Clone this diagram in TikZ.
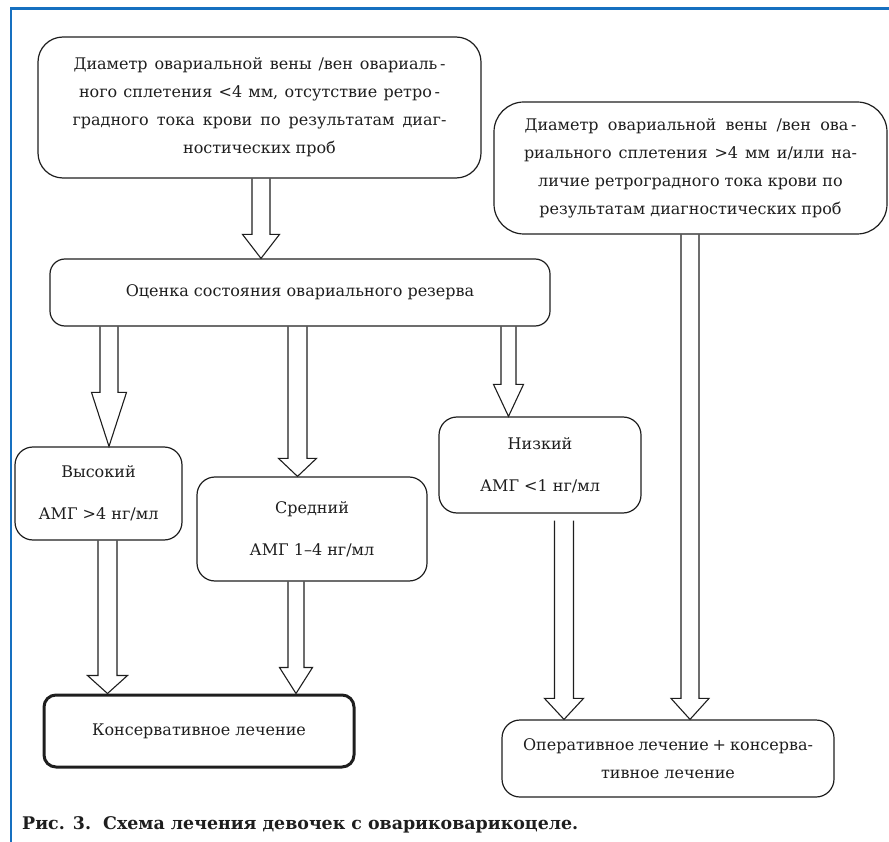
\documentclass[tikz,border=0pt]{standalone}
\usepackage{fontspec}
\setmainfont{DejaVu Serif}
\usetikzlibrary{calc}
\definecolor{frameblue}{RGB}{22,112,192}
\definecolor{ink}{RGB}{30,30,30}
\newcommand\bodyfont{\fontsize{16}{28}\selectfont}
\newcommand\twofont{\fontsize{16}{42}\selectfont}
\tikzset{
  rbox/.style={draw=ink, line width=1.2pt, rounded corners=#1, inner sep=0pt, align=center, font=\bodyfont, text=ink},
  rbox/.default=18pt,
  arrowline/.style={draw=ink, line width=1.1pt, line join=miter},
}
% #1 start, #2 end, #3 head length, #4 shaft half width, #5 head half width
\newcommand\blockarr[5]{%
  \draw[arrowline] let \p1=#1, \p2=#2 in
    (\x1-#4,\y1) -- (\x1-#4,\y2+#3) -- (\x1-#5,\y2+#3) -- (\x1,\y2)
    -- (\x1+#5,\y2+#3) -- (\x1+#4,\y2+#3) -- (\x1+#4,\y1);
}
\begin{document}
\begin{tikzpicture}[x=1pt,y=-1pt]
\useasboundingbox (0,0) rectangle (889,842);
% frame
\draw[frameblue, line width=2.5pt] (10,8.5) -- (889,8.5);
\draw[frameblue, line width=2.5pt] (11,7.5) -- (11,842);

% boxes
\node[rbox=25pt, minimum width=443pt, minimum height=141pt] (top) at (259.5,107.5)
 {\makebox[372pt][s]{Диаметр овариальной вены /вен овариаль\,-}\\
  \makebox[361pt][s]{ного сплетения <4 мм, отсутствие ретро\,-}\\
  \makebox[374pt][s]{градного тока крови по результатам диаг-}\\
  ностических проб};
\node[rbox=30pt, minimum width=393pt, minimum height=132pt] (right) at (690.5,168)
 {\makebox[332pt][s]{Диаметр овариальной вены /вен ова\,-}\\
  \makebox[333pt][s]{риального сплетения >4 мм и/или на-}\\
  личие ретроградного тока крови по\\
  результатам диагностических проб};
\node[rbox=15pt, minimum width=500pt, minimum height=67pt] (est) at (300,292.5)
 {Оценка состояния овариального резерва};
\node[rbox, minimum width=167pt, minimum height=93pt, font=\twofont] (high) at (98.5,493.5)
 {Высокий\\АМГ >4 нг/мл};
\node[rbox, minimum width=230pt, minimum height=104pt, font=\twofont] (mid) at (312,529)
 {Средний\\АМГ 1–4 нг/мл};
\node[rbox, minimum width=202pt, minimum height=96pt, font=\twofont] (low) at (540,465)
 {Низкий\\АМГ <1 нг/мл};
\node[rbox=12pt, line width=3pt, minimum width=310pt, minimum height=72pt] (cons) at (199,731)
 {Консервативное лечение};
\node[rbox, minimum width=332pt, minimum height=77pt] (oper) at (668,758.5)
 {\makebox[290pt][s]{Оперативное лечение + консерва-}\\
  тивное лечение};

% caption
\node[anchor=west, inner sep=0pt, font=\fontsize{17.4}{20}\selectfont\bfseries, text=ink] (cap) at (22,825)
 {Рис. 3.\ \ Схема лечения девочек с овариковарикоцеле.};

% arrow x positions
\coordinate (xa) at (261,0);
\coordinate (xb) at (109,0);
\coordinate (xc) at (297.5,0);
\coordinate (xd) at (508.5,0);
\coordinate (xe) at (690,0);
\coordinate (xf) at (564,0);
\coordinate (xg) at (107.5,0);
\coordinate (xh) at (296,0);

\blockarr{(top.south -| xa)}{(est.north -| xa)}{24pt}{9pt}{18.5pt}
\blockarr{(est.south -| xb)}{(high.north -| xb)}{54pt}{9pt}{17.5pt}
\blockarr{(est.south -| xc)}{(mid.north -| xc)}{18pt}{9.5pt}{19pt}
\blockarr{(est.south -| xd)}{(low.north -| xd)}{32pt}{7.5pt}{15pt}
\blockarr{(right.south -| xe)}{(oper.north -| xe)}{21pt}{9pt}{19pt}
\blockarr{($(low.south -| xf)+(0,7)$)}{(oper.north -| xf)}{21pt}{9.5pt}{19.5pt}
\blockarr{(high.south -| xg)}{(cons.north -| xg)}{18pt}{9.5pt}{20pt}
\blockarr{(mid.south -| xh)}{(cons.north -| xh)}{26pt}{8pt}{16.5pt}
\end{tikzpicture}
\end{document}
